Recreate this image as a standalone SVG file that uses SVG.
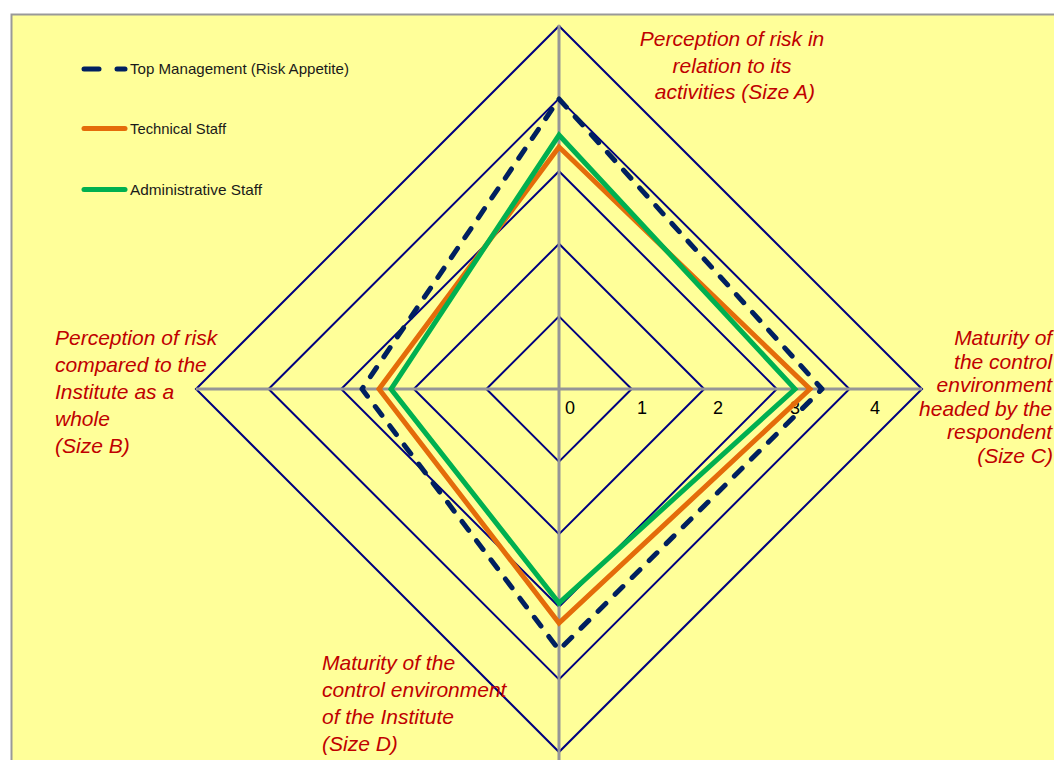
<svg xmlns="http://www.w3.org/2000/svg" width="1054" height="760" viewBox="0 0 1054 760">
  <style>
    .grid { fill: none; stroke: #000080; stroke-width: 2; stroke-linejoin: miter; }
    .axis { stroke: #969696; stroke-width: 3; }
    .s-top { fill: none; stroke: #002060; stroke-width: 5; stroke-dasharray: 11 13; stroke-linecap: round; stroke-linejoin: round; }
    .s-tech { fill: none; stroke: #E46C0A; stroke-width: 5; stroke-linejoin: miter; }
    .s-adm { fill: none; stroke: #00B050; stroke-width: 5; stroke-linejoin: miter; }
    .leg { font-family: "Liberation Sans", Arial, sans-serif; font-size: 15px; fill: #1a1a1a; }
    .tick { font-family: "Liberation Sans", Arial, sans-serif; font-size: 18px; fill: #000; text-anchor: middle; }
    .cat { font-family: "Liberation Sans", Arial, sans-serif; font-size: 21px; font-style: italic; fill: #C00000; }
  </style>

  <!-- page and plot area -->
  <rect x="0" y="0" width="1054" height="760" fill="#ffffff"/>
  <rect x="11.5" y="14.5" width="1060" height="760" fill="#FFFF99" stroke="#999999" stroke-width="2"/>

  <!-- radar grid rings, values 1..5 -->
  <g id="grid">
    <polygon class="grid" points="559,316.4 631.6,389 559,461.6 486.4,389"/>
    <polygon class="grid" points="559,243.8 704.2,389 559,534.2 413.8,389"/>
    <polygon class="grid" points="559,171.2 776.8,389 559,606.8 341.2,389"/>
    <polygon class="grid" points="559,98.6 849.4,389 559,679.4 268.6,389"/>
    <polygon class="grid" points="559,26 922,389 559,752 196,389"/>
  </g>

  <!-- category axes -->
  <g id="axes">
    <line class="axis" x1="559" y1="25" x2="559" y2="760"/>
    <line class="axis" x1="196" y1="389" x2="922" y2="389"/>
  </g>

  <!-- value scale -->
  <g id="ticks">
    <text class="tick" x="570" y="414">0</text>
    <text class="tick" x="642" y="414">1</text>
    <text class="tick" x="718" y="414">2</text>
    <text class="tick" x="795" y="414">3</text>
    <text class="tick" x="875" y="414">4</text>
  </g>

  <!-- data series -->
  <g id="connectors">
    <polygon id="series-technical" class="s-tech" points="559,147 810,389 559,623 379,389"/>
    <polygon id="series-administrative" class="s-adm" points="559,135 795,389 559,603 391,389"/>
    <polygon id="series-top-management" class="s-top" points="559,99 822,389 559,650 362,389"/>
  </g>

  <!-- legend -->
  <g id="legend">
    <g id="legend-top">
      <line x1="84" y1="69" x2="99" y2="69" stroke="#002060" stroke-width="5" stroke-linecap="round"/>
      <line x1="117" y1="69" x2="125" y2="69" stroke="#002060" stroke-width="5" stroke-linecap="round"/>
      <text class="leg" x="130" y="74" textLength="219" lengthAdjust="spacingAndGlyphs">Top Management (Risk Appetite)</text>
    </g>
    <g id="legend-tech">
      <line x1="84" y1="128.5" x2="125" y2="128.5" stroke="#E46C0A" stroke-width="5" stroke-linecap="round"/>
      <text class="leg" x="130" y="133.5" textLength="96" lengthAdjust="spacingAndGlyphs">Technical Staff</text>
    </g>
    <g id="legend-adm">
      <line x1="84" y1="189.5" x2="125" y2="189.5" stroke="#00B050" stroke-width="5" stroke-linecap="round"/>
      <text class="leg" x="130" y="194.5" textLength="132" lengthAdjust="spacingAndGlyphs">Administrative Staff</text>
    </g>
  </g>

  <!-- category labels -->
  <g id="label-a">
    <text class="cat" text-anchor="middle">
      <tspan x="735" y="46">Perception of risk in</tspan>
      <tspan x="735" y="72.5">relation to its</tspan>
      <tspan x="735" y="99">activities (Size A)</tspan>
    </text>
  </g>
  <g id="label-b">
    <text class="cat">
      <tspan x="55" y="345">Perception of risk</tspan>
      <tspan x="55" y="372">compared to the</tspan>
      <tspan x="55" y="399">Institute as a</tspan>
      <tspan x="55" y="426">whole</tspan>
      <tspan x="55" y="453">(Size B)</tspan>
    </text>
  </g>
  <g id="label-c">
    <text class="cat" text-anchor="end">
      <tspan x="1058" y="345">Maturity of</tspan>
      <tspan x="1058" y="368.5">the control</tspan>
      <tspan x="1058" y="392">environment</tspan>
      <tspan x="1058" y="415.5">headed by the</tspan>
      <tspan x="1058" y="439">respondent</tspan>
      <tspan x="1053" y="463">(Size C)</tspan>
    </text>
  </g>
  <g id="label-d">
    <text class="cat">
      <tspan x="322" y="670">Maturity of the</tspan>
      <tspan x="322" y="697">control environment</tspan>
      <tspan x="322" y="724">of the Institute</tspan>
      <tspan x="322" y="751">(Size D)</tspan>
    </text>
  </g>
</svg>
